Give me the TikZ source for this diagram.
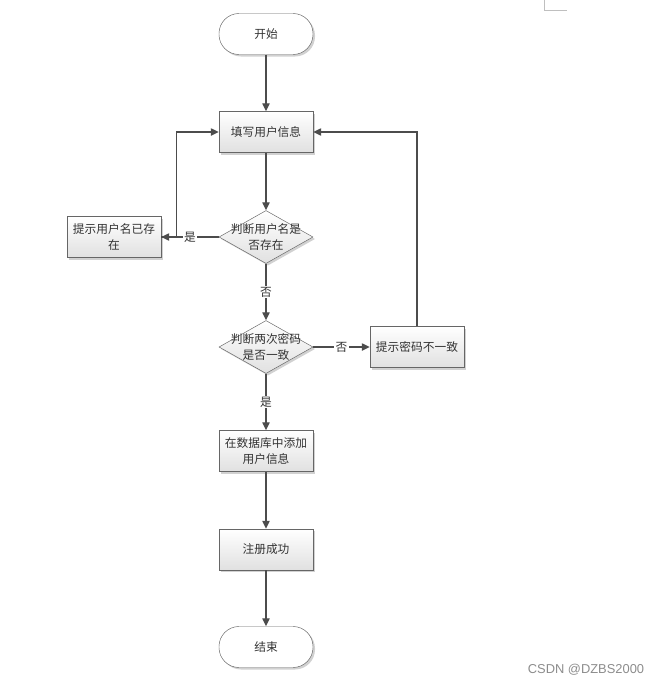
\documentclass[tikz,border=0pt]{standalone}
\usepackage{fontspec}
\newfontfamily\cjk{Noto Sans CJK SC}
\setsansfont{Liberation Sans}
\usetikzlibrary{arrows.meta}
\usetikzlibrary{shapes.geometric}
\usetikzlibrary{shadows}

\begin{document}
\begin{tikzpicture}[x=0.3mm, y=-0.3mm,
  proc/.style={draw=black!60, thin, top color=white, bottom color=black!12,
    drop shadow={shadow xshift=0.6mm, shadow yshift=-0.6mm, fill=black!30, opacity=0.6},
    minimum width=28.2mm, minimum height=12.3mm, align=center,
    font=\cjk\fontsize{10}{14}\selectfont, text=black!80},
  term/.style={proc, rounded corners=6mm, top color=white, bottom color=white},
  decide/.style={proc, diamond, inner sep=0pt, minimum width=28.2mm, minimum height=15.9mm},
  flow/.style={draw=black!70, line width=0.4mm, -{Triangle[length=2.4mm, width=2.2mm]}},
  tag/.style={fill=white, inner sep=1pt, font=\cjk\fontsize{10}{12}\selectfont, text=black!80}]
\useasboundingbox (0,0) rectangle (659,685);

\node[term] (start) at (266,34) {开始};
\node[proc] (fill) at (266,132) {填写用户信息};
\node[decide, label={[align=center, font=\cjk\fontsize{10}{14}\selectfont, text=black!80]center:{判断用户名是\\否存在}}] (chkname) at (266,237) {};
\node[proc] (warnname) at (114,237) {提示用户名已存\\在};
\node[decide, label={[align=center, font=\cjk\fontsize{10}{14}\selectfont, text=black!80]center:{判断两次密码\\是否一致}}] (chkpwd) at (266,347) {};
\node[proc] (warnpwd) at (417,347) {提示密码不一致};
\node[proc] (save) at (266,451) {在数据库中添加\\用户信息};
\node[proc] (done) at (266,549.5) {注册成功};
\node[term] (stop) at (266,647) {结束};

\draw[flow] (start) -- (fill);
\draw[flow] (fill) -- (chkname);
\draw[flow] (chkname) -- node[tag] {是} (warnname);
\draw[flow] (warnname.east) -- ++(15,0) |- (fill.west);
\draw[flow] (chkname) -- node[tag] {否} (chkpwd);
\draw[flow] (chkpwd) -- node[tag] {否} (warnpwd);
\draw[flow] (warnpwd) |- (fill);
\draw[flow] (chkpwd) -- node[tag] {是} (save);
\draw[flow] (save) -- (done);
\draw[flow] (done) -- (stop);

\draw[black!25, line width=0.3mm] (544,0) -- (544,10) -- (567,10);
\node[font=\sffamily\fontsize{11}{13}\selectfont, text=black!45] (mark) at (586,670) {CSDN @DZBS2000};
\end{tikzpicture}
\end{document}
